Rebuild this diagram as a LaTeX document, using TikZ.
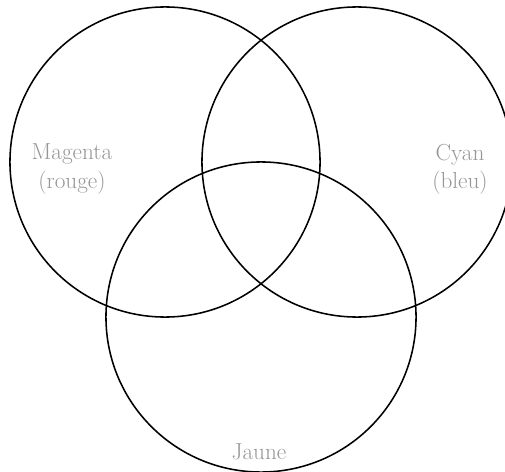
\documentclass[tikz,border=0pt]{standalone}
\usepackage{tikz}
\usetikzlibrary{positioning}
\definecolor{labelgray}{RGB}{150,150,150}

\begin{document}
\begin{tikzpicture}[x=0.025cm,y=-0.025cm]
  \tikzstyle{colorcircle}=[circle,draw=black,line width=1.1pt,minimum size=7.75cm,inner sep=0pt]
  \tikzstyle{colorlabel}=[text=labelgray,align=center,font=\fontsize{16.5}{20}\selectfont]

  \useasboundingbox (0,0) rectangle (505,472);

  \node[colorcircle] (magenta) at (165,162) {};
  \node[colorcircle] (cyan) at (357,162) {};
  \node[colorcircle] (jaune) at (261,317) {};

  \node[colorlabel] (magentatext) at (72,169) {Magenta\\(rouge)};
  \node[colorlabel] (cyantext) at (460,169) {Cyan\\(bleu)};
  \node[colorlabel] (jaunetext) at (259,452) {Jaune};
\end{tikzpicture}
\end{document}
